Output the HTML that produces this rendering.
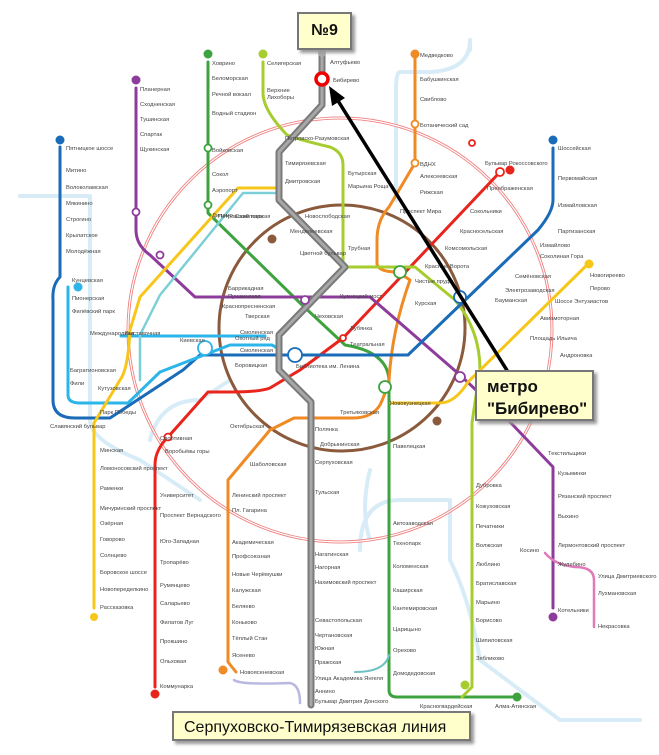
<!DOCTYPE html>
<html><head><meta charset="utf-8"><style>
html,body{margin:0;padding:0;background:#fff;}
body{width:659px;height:755px;overflow:hidden;position:relative;font-family:"Liberation Sans",sans-serif;}
svg{position:absolute;left:0;top:0;}
.box{position:absolute;background:#ffffcc;border:2px solid #777;box-shadow:3px 3px 3px #999;color:#111;}
</style></head><body>
<svg width="659" height="755" viewBox="0 0 659 755">
<g fill="none" stroke-linecap="round" stroke-linejoin="round">
<g stroke="#d8ecf8" stroke-width="4">
<path d="M20,196 H90 Q90,196 90,300 V420 Q90,440 140,460 L200,500"/>
<path d="M470,50 V40 Q470,70 430,72 L400,72 Q396,72 396,90 V200"/>
<path d="M360,550 Q360,500 400,500 H450 V560 Q470,600 480,660 L560,720 H640"/>
<path d="M150,440 Q160,400 200,400 L230,380"/>
<path d="M370,470 Q360,510 370,540"/>
</g>
<circle cx="340" cy="330" r="212" stroke="#f08080" stroke-width="3"/>
<circle cx="340" cy="330" r="212" stroke="#fff" stroke-width="1.2"/>
<circle cx="342" cy="328" r="123" stroke="#8b5a3c" stroke-width="3"/>
<path d="M208,62 V213 L300,303 L345,345 Q389,352 389,382 V690 Q389,697 397,697 H517" stroke="#3ea33e" stroke-width="3"/>
<path d="M500,172 L343,338 L300,370 L270,388 Q260,392 232,392 H208 L168,437 Q155,450 155,465 V687" stroke="#e8241c" stroke-width="3"/>
<path d="M415,53 V163 L389,207 Q377,220 377,240 V263 Q377,272 398,272 L410,280 Q392,330 389,380 Q385,395 380,405 Q372,418 353,418 H294 L270,430 L228,480 V662 L236,672" stroke="#f08a24" stroke-width="3"/>
<path d="M136,88 V230 Q136,245 150,255 L195,297 H370 L460,375 L511,423 L553,467 V608" stroke="#8e3c9c" stroke-width="3"/>
<path d="M263,62 V93 Q263,110 287,135 Q300,140 330,147 Q343,152 343,165 V267 H415 L455,300 Q480,330 480,370 Q476,395 472,423 V687 L462,697" stroke="#a6cc2e" stroke-width="3"/>
<path d="M60,147 V277 Q52,285 53,300 V400 Q53,418 75,418 H110 L183,370 L200,355 H408 L538,230 Q553,212 553,200 V148" stroke="#1a6bb8" stroke-width="3"/>
<path d="M68,287 V395 Q68,403 80,403 H128 L160,372 L230,345 H272 Q278,348 280,352" stroke="#2bb5e8" stroke-width="3"/>
<path d="M121,336 H265" stroke="#2bb5e8" stroke-width="3"/>
<path d="M589,263 L468,382 Q455,403 440,403 H391" stroke="#f7c61a" stroke-width="3"/>
<path d="M277,188 H238 L140,297 L130,330 Q128,370 120,380 L94,423 V608" stroke="#f7c61a" stroke-width="3"/>
<path d="M277,193 H243 L160,295 L140,335 L140,380" stroke="#7ccfd6" stroke-width="2.5"/>
<path d="M545,553 Q555,565 575,567 Q594,567 594,580 V627" stroke="#e07ab8" stroke-width="2.5"/>
<path d="M234,680 Q240,685 290,683 Q300,685 300,703" stroke="#b8b8e0" stroke-width="2.5"/>
<path d="M355,672 Q385,672 389,655" stroke="#6cc0c0" stroke-width="2"/>
<path d="M322,53 V105 L279,152 V200 L345,267 L279,335 V370 L311,402 V705" stroke="#7a7a7a" stroke-width="7"/>
<path d="M322,53 V105 L279,152 V200 L345,267 L279,335 V370 L311,402 V705" stroke="#a8a8a8" stroke-width="3"/>
</g>
<g fill="#fff" stroke-width="1.8">
<circle cx="322" cy="79" r="6" stroke="#e00" stroke-width="3.5"/>
<circle cx="208" cy="148" r="3.5" stroke="#3ea33e"/><circle cx="208" cy="205" r="3.5" stroke="#3ea33e"/>
<circle cx="415" cy="124" r="3.5" stroke="#f08a24"/><circle cx="415" cy="163" r="3.5" stroke="#f08a24"/>
<circle cx="136" cy="212" r="3.5" stroke="#8e3c9c"/><circle cx="160" cy="255" r="3.5" stroke="#8e3c9c"/>
<circle cx="500" cy="172" r="4" stroke="#e8241c"/><circle cx="168" cy="437" r="3.5" stroke="#e8241c"/>
<circle cx="400" cy="272" r="6" stroke="#3ea33e"/><circle cx="205" cy="348" r="7" stroke="#2bb5e8"/>
<circle cx="295" cy="355" r="7" stroke="#1a6bb8"/><circle cx="460" cy="297" r="6" stroke="#1a6bb8"/>
<circle cx="385" cy="387" r="6" stroke="#3ea33e"/><circle cx="460" cy="377" r="5" stroke="#8e3c9c"/>
<circle cx="343" cy="338" r="3" stroke="#e8241c"/><circle cx="305" cy="300" r="4" stroke="#8e3c9c"/>
<circle cx="472" cy="143" r="3" stroke="#e8241c"/>
</g>
<g font-size="5.8" fill="#444" font-family="Liberation Sans, sans-serif">
<text x="140" y="91">Планерная</text><text x="140" y="106">Сходненская</text><text x="140" y="121">Тушинская</text><text x="140" y="136">Спартак</text><text x="140" y="151">Щукинская</text>
<text x="212" y="65">Ховрино</text><text x="212" y="80">Беломорская</text><text x="212" y="96">Речной вокзал</text><text x="212" y="115">Водный стадион</text><text x="212" y="152">Войковская</text><text x="212" y="176">Сокол</text><text x="212" y="192">Аэропорт</text><text x="212" y="217">Динамо</text><text x="218" y="218">Петровский парк</text>
<text x="267" y="65">Селигерская</text><text x="267" y="92">Верхние</text><text x="267" y="99">Лихоборы</text>
<text x="330" y="64">Алтуфьево</text><text x="333" y="82">Бибирево</text>
<text x="420" y="57">Медведково</text><text x="420" y="81">Бабушкинская</text><text x="420" y="101">Свиблово</text><text x="420" y="127">Ботанический сад</text><text x="420" y="166">ВДНХ</text><text x="420" y="178">Алексеевская</text><text x="420" y="194">Рижская</text><text x="400" y="213">Проспект Мира</text>
<text x="66" y="150">Пятницкое шоссе</text><text x="66" y="172">Митино</text><text x="66" y="189">Волоколамская</text><text x="66" y="205">Мякинино</text><text x="66" y="221">Строгино</text><text x="66" y="237">Крылатское</text><text x="66" y="253">Молодёжная</text>
<text x="72" y="282">Кунцевская</text><text x="72" y="300">Пионерская</text><text x="72" y="313">Филёвский парк</text><text x="70" y="372">Багратионовская</text><text x="70" y="385">Фили</text>
<text x="558" y="150">Шоссейская</text><text x="558" y="180">Первомайская</text><text x="558" y="207">Измайловская</text><text x="558" y="233">Партизанская</text><text x="540" y="247">Измайлово</text><text x="540" y="258">Соколиная Гора</text>
<text x="485" y="165">Бульвар Рокоссовского</text><text x="487" y="190">Преображенская</text><text x="470" y="213">Сокольники</text><text x="460" y="233">Красносельская</text><text x="445" y="250">Комсомольская</text><text x="425" y="268">Красные Ворота</text><text x="415" y="283">Чистые пруды</text><text x="415" y="305">Курская</text>
<text x="235" y="218">Савёловская</text><text x="285" y="140">Петровско-Разумовская</text><text x="285" y="165">Тимирязевская</text><text x="285" y="183">Дмитровская</text><text x="305" y="218">Новослободская</text><text x="290" y="233">Менделеевская</text><text x="348" y="250">Трубная</text><text x="300" y="255">Цветной бульвар</text><text x="348" y="175">Бутырская</text><text x="348" y="188">Марьина Роща</text>
<text x="228" y="298">Пушкинская</text><text x="245" y="318">Тверская</text><text x="315" y="318">Чеховская</text><text x="340" y="298">Кузнецкий мост</text><text x="350" y="330">Лубянка</text><text x="350" y="346">Театральная</text><text x="235" y="340">Охотный ряд</text><text x="235" y="367">Боровицкая</text><text x="296" y="368">Библиотека им. Ленина</text>
<text x="228" y="290">Баррикадная</text><text x="222" y="308">Краснопресненская</text><text x="90" y="335">Международная</text><text x="125" y="335">Выставочная</text><text x="240" y="334">Смоленская</text><text x="240" y="352">Смоленская</text><text x="180" y="342">Киевская</text>
<text x="98" y="390">Кутузовская</text><text x="100" y="414">Парк Победы</text><text x="50" y="428">Славянский бульвар</text>
<text x="100" y="452">Минская</text><text x="100" y="470">Ломоносовский проспект</text><text x="100" y="490">Раменки</text><text x="100" y="510">Мичуринский проспект</text><text x="100" y="525">Озёрная</text><text x="100" y="541">Говорово</text><text x="100" y="557">Солнцево</text><text x="100" y="574">Боровское шоссе</text><text x="100" y="591">Новопеределкино</text><text x="100" y="609">Рассказовка</text>
<text x="160" y="440">Спортивная</text><text x="165" y="453">Воробьёвы горы</text><text x="160" y="497">Университет</text><text x="160" y="517">Проспект Вернадского</text><text x="160" y="543">Юго-Западная</text><text x="160" y="564">Тропарёво</text><text x="160" y="587">Румянцево</text><text x="160" y="605">Саларьево</text><text x="160" y="624">Филатов Луг</text><text x="160" y="643">Прокшино</text><text x="160" y="663">Ольховая</text><text x="160" y="688">Коммунарка</text>
<text x="232" y="497">Ленинский проспект</text><text x="232" y="512">Пл. Гагарина</text><text x="232" y="544">Академическая</text><text x="232" y="558">Профсоюзная</text><text x="232" y="576">Новые Черёмушки</text><text x="232" y="592">Калужская</text><text x="232" y="608">Беляево</text><text x="232" y="624">Коньково</text><text x="232" y="640">Тёплый Стан</text><text x="232" y="657">Ясенево</text><text x="240" y="674">Новоясеневская</text>
<text x="230" y="428">Октябрьская</text><text x="250" y="466">Шаболовская</text><text x="315" y="431">Полянка</text><text x="320" y="446">Добрынинская</text><text x="315" y="464">Серпуховская</text><text x="315" y="494">Тульская</text><text x="315" y="556">Нагатинская</text><text x="315" y="569">Нагорная</text><text x="315" y="584">Нахимовский проспект</text><text x="315" y="622">Севастопольская</text><text x="315" y="637">Чертановская</text><text x="315" y="650">Южная</text><text x="315" y="664">Пражская</text><text x="315" y="680">Улица Академика Янгеля</text><text x="315" y="693">Аннино</text><text x="315" y="703">Бульвар Дмитрия Донского</text>
<text x="393" y="448">Павелецкая</text><text x="393" y="525">Автозаводская</text><text x="393" y="545">Технопарк</text><text x="393" y="568">Коломенская</text><text x="393" y="592">Каширская</text><text x="393" y="610">Кантемировская</text><text x="393" y="631">Царицыно</text><text x="393" y="652">Орехово</text><text x="393" y="675">Домодедовская</text><text x="420" y="708">Красногвардейская</text><text x="495" y="708">Алма-Атинская</text>
<text x="390" y="405">Новокузнецкая</text><text x="340" y="414">Третьяковская</text><text x="476" y="487">Дубровка</text><text x="476" y="508">Кожуховская</text><text x="476" y="528">Печатники</text><text x="476" y="547">Волжская</text><text x="476" y="566">Люблино</text><text x="476" y="585">Братиславская</text><text x="476" y="604">Марьино</text><text x="476" y="622">Борисово</text><text x="476" y="642">Шипиловская</text><text x="476" y="660">Зябликово</text>
<text x="548" y="455">Текстильщики</text><text x="558" y="475">Кузьминки</text><text x="558" y="498">Рязанский проспект</text><text x="558" y="518">Выхино</text><text x="558" y="547">Лермонтовский проспект</text><text x="558" y="566">Жулебино</text><text x="558" y="612">Котельники</text><text x="598" y="578">Улица Дмитриевского</text><text x="598" y="595">Лухмановская</text><text x="598" y="628">Некрасовка</text><text x="520" y="552">Косино</text>
<text x="590" y="277">Новогиреево</text><text x="590" y="290">Перово</text><text x="555" y="303">Шоссе Энтузиастов</text><text x="540" y="320">Авиамоторная</text><text x="530" y="340">Площадь Ильича</text><text x="560" y="357">Андроновка</text><text x="515" y="278">Семёновская</text><text x="505" y="292">Электрозаводская</text><text x="495" y="302">Бауманская</text>
</g>
<g>
<circle cx="208" cy="54" r="4.5" fill="#3ea33e"/><circle cx="263" cy="54" r="4.5" fill="#a6cc2e"/><circle cx="322" cy="53" r="4" fill="#aaa"/><circle cx="415" cy="54" r="4.5" fill="#f08a24"/><circle cx="136" cy="80" r="4.5" fill="#8e3c9c"/><circle cx="60" cy="140" r="4.5" fill="#1a6bb8"/><circle cx="553" cy="140" r="4.5" fill="#1a6bb8"/><circle cx="510" cy="170" r="4.5" fill="#e8241c"/><circle cx="589" cy="264" r="4.5" fill="#f7c61a"/><circle cx="155" cy="694" r="4.5" fill="#e8241c"/><circle cx="94" cy="617" r="4" fill="#f7c61a"/><circle cx="553" cy="617" r="4.5" fill="#8e3c9c"/><circle cx="517" cy="697" r="4.5" fill="#3ea33e"/><circle cx="465" cy="685" r="4.5" fill="#a6cc2e"/><circle cx="223" cy="670" r="4.5" fill="#f08a24"/><circle cx="272" cy="239" r="4.5" fill="#8b5a3c"/><circle cx="437" cy="421" r="4.5" fill="#8b5a3c"/><circle cx="78" cy="287" r="4.5" fill="#2bb5e8"/>
</g>
<line x1="508" y1="372" x2="335" y2="96" stroke="#000" stroke-width="3.5"/>
<polygon points="329,86 345,98 332,106" fill="#000"/>
</svg>
<div class="box" style="left:297px;top:12px;width:51px;height:34px;line-height:34px;text-align:center;font-size:16px;font-weight:bold;">№9</div>
<div class="box" style="left:475px;top:370px;width:119px;height:51px;font-size:17px;font-weight:bold;line-height:22px;padding:4px 0 0 10px;box-sizing:border-box;">метро<br>"Бибирево"</div>
<div class="box" style="left:172px;top:711px;width:299px;height:30px;line-height:30px;font-size:16px;padding-left:10px;box-sizing:border-box;">Серпуховско-Тимирязевская линия</div>
</body></html>
